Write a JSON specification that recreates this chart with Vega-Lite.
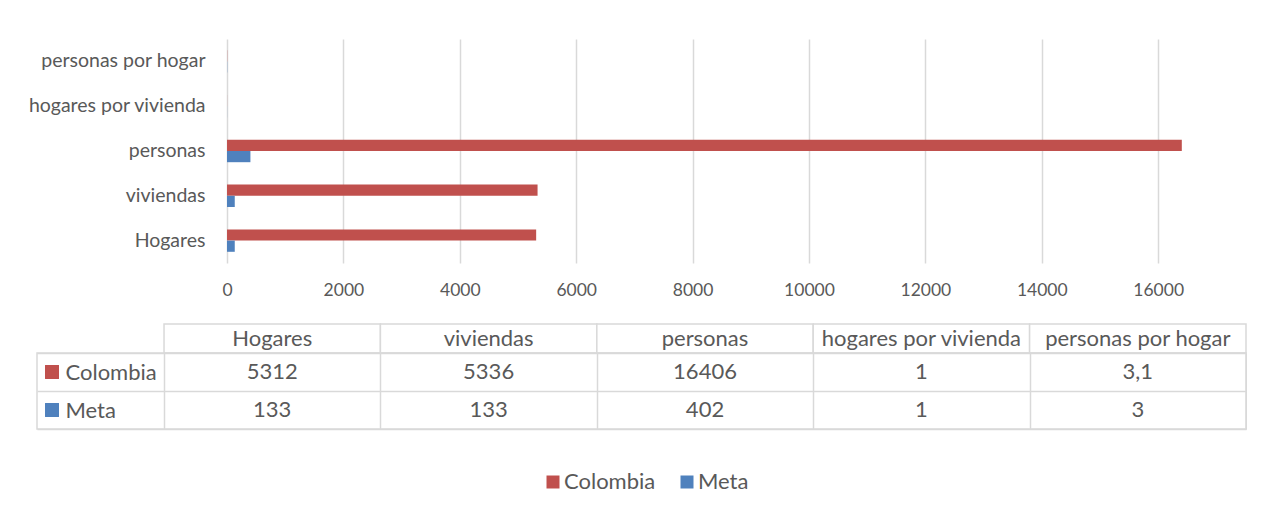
{
  "$schema": "https://vega.github.io/schema/vega-lite/v6.json",
  "padding": {"left": 27, "top": 39, "right": 0, "bottom": 0},
  "background": "white",
  "datasets": {
    "tabla": [
      {"categoria": "Hogares", "serie": "Colombia", "valor": 5312},
      {"categoria": "Hogares", "serie": "Meta", "valor": 133},
      {"categoria": "viviendas", "serie": "Colombia", "valor": 5336},
      {"categoria": "viviendas", "serie": "Meta", "valor": 133},
      {"categoria": "personas", "serie": "Colombia", "valor": 16406},
      {"categoria": "personas", "serie": "Meta", "valor": 402},
      {"categoria": "hogares por vivienda", "serie": "Colombia", "valor": 1},
      {"categoria": "hogares por vivienda", "serie": "Meta", "valor": 1},
      {"categoria": "personas por hogar", "serie": "Colombia", "valor": 3.1},
      {"categoria": "personas por hogar", "serie": "Meta", "valor": 3}
    ]
  },
  "spacing": 0,
  "resolve": {"scale": {"x": "independent", "y": "independent", "color": "shared"}},
  "vconcat": [
    {
      "width": 1209,
      "height": 224,
      "data": {"name": "tabla"},
      "view": {"stroke": null},
      "mark": {"type": "bar"},
      "encoding": {
        "y": {
          "field": "categoria", "type": "nominal",
          "sort": ["personas por hogar", "hogares por vivienda", "personas", "viviendas", "Hogares"],
          "scale": {"paddingInner": 0.5, "paddingOuter": 0.25},
          "axis": {"title": null, "domain": false, "ticks": false, "labelPadding": -168, "labelAlign": "right", "labelFontSize": 19.5, "labelColor": "#595959", "labelFont": "Lato"}
        },
        "x": {
          "field": "valor", "type": "quantitative",
          "scale": {"domain": [-3265, 17509], "nice": false, "zero": false},
          "axis": {"title": null, "values": [0, 2000, 4000, 6000, 8000, 10000, 12000, 14000, 16000], "format": "d", "domain": false, "ticks": false, "grid": true, "gridColor": "#D9D9D9", "gridWidth": 1.5, "labelPadding": 18, "minExtent": 60, "labelFontSize": 17.5, "labelColor": "#595959", "labelFont": "Lato"}
        },
        "yOffset": {"field": "serie", "type": "nominal", "sort": ["Colombia", "Meta"]},
        "color": {
          "field": "serie", "type": "nominal",
          "scale": {"domain": ["Colombia", "Meta"], "range": ["#C0504D", "#4F81BD"]},
          "legend": {"orient": "none", "legendX": 505, "legendY": 432, "direction": "horizontal", "title": null, "symbolType": "square", "symbolSize": 169, "symbolStrokeWidth": 0, "labelFontSize": 22, "labelColor": "#595959", "labelFont": "Lato", "columnPadding": 20, "labelOffset": 0, "padding": 0}
        }
      }
    },
    {
      "spacing": 0,
      "bounds": "flush",
      "vconcat": [
        {
          "width": 1209,
          "height": 29,
          "data": {"name": "tabla"},
          "transform": [{"filter": "datum.serie === 'Colombia'"}],
          "view": {"stroke": null},
          "encoding": {
            "x": {
              "field": "categoria", "type": "nominal",
              "sort": ["Hogares", "viviendas", "personas", "hogares por vivienda", "personas por hogar"],
              "scale": {"paddingInner": 0, "paddingOuter": 0.2935, "align": 1},
              "axis": null
            }
          },
          "layer": [
            {"mark": {"type": "rect", "fill": "white", "stroke": "#D9D9D9", "strokeWidth": 1.5}},
            {"mark": {"type": "text", "fontSize": 22, "color": "#595959", "font": "Lato"}, "encoding": {"text": {"field": "categoria", "type": "nominal"}}}
          ]
        },
        {
          "width": 1209,
          "height": 76,
          "data": {"name": "tabla"},
          "view": {"stroke": "#D9D9D9", "strokeWidth": 1.5},
          "encoding": {
            "x": {
              "field": "categoria", "type": "nominal",
              "sort": ["Hogares", "viviendas", "personas", "hogares por vivienda", "personas por hogar"],
              "scale": {"paddingInner": 0, "paddingOuter": 0.2935, "align": 1},
              "axis": {"title": null, "labels": false, "ticks": false, "domain": false, "grid": true, "tickBand": "extent", "gridColor": "#D9D9D9", "gridWidth": 1.5}
            },
            "y": {
              "field": "serie", "type": "nominal", "sort": ["Colombia", "Meta"],
              "scale": {"paddingInner": 0, "paddingOuter": 0},
              "axis": {"title": null, "domain": false, "ticks": false, "grid": true, "tickBand": "extent", "gridColor": "#D9D9D9", "gridWidth": 1.5, "labelAlign": "left", "labelPadding": -28, "labelFontSize": 22, "labelColor": "#595959", "labelFont": "Lato"}
            }
          },
          "layer": [
            {"mark": {"type": "text", "fontSize": 22, "color": "#595959", "font": "Lato"}, "encoding": {"text": {"field": "valor", "type": "quantitative"}}},
            {
              "mark": {"type": "point", "shape": "square", "filled": true, "size": 180, "opacity": 1, "strokeWidth": 0, "xOffset": -112},
              "encoding": {
                "x": {"datum": "Hogares", "type": "nominal", "bandPosition": 0},
                "color": {"field": "serie", "type": "nominal"}
              }
            }
          ]
        }
      ]
    }
  ],
  "config": {
    "locale": {"number": {"decimal": ",", "thousands": ".", "grouping": [3], "currency": ["$", ""]}},
    "font": "Lato"
  }
}
